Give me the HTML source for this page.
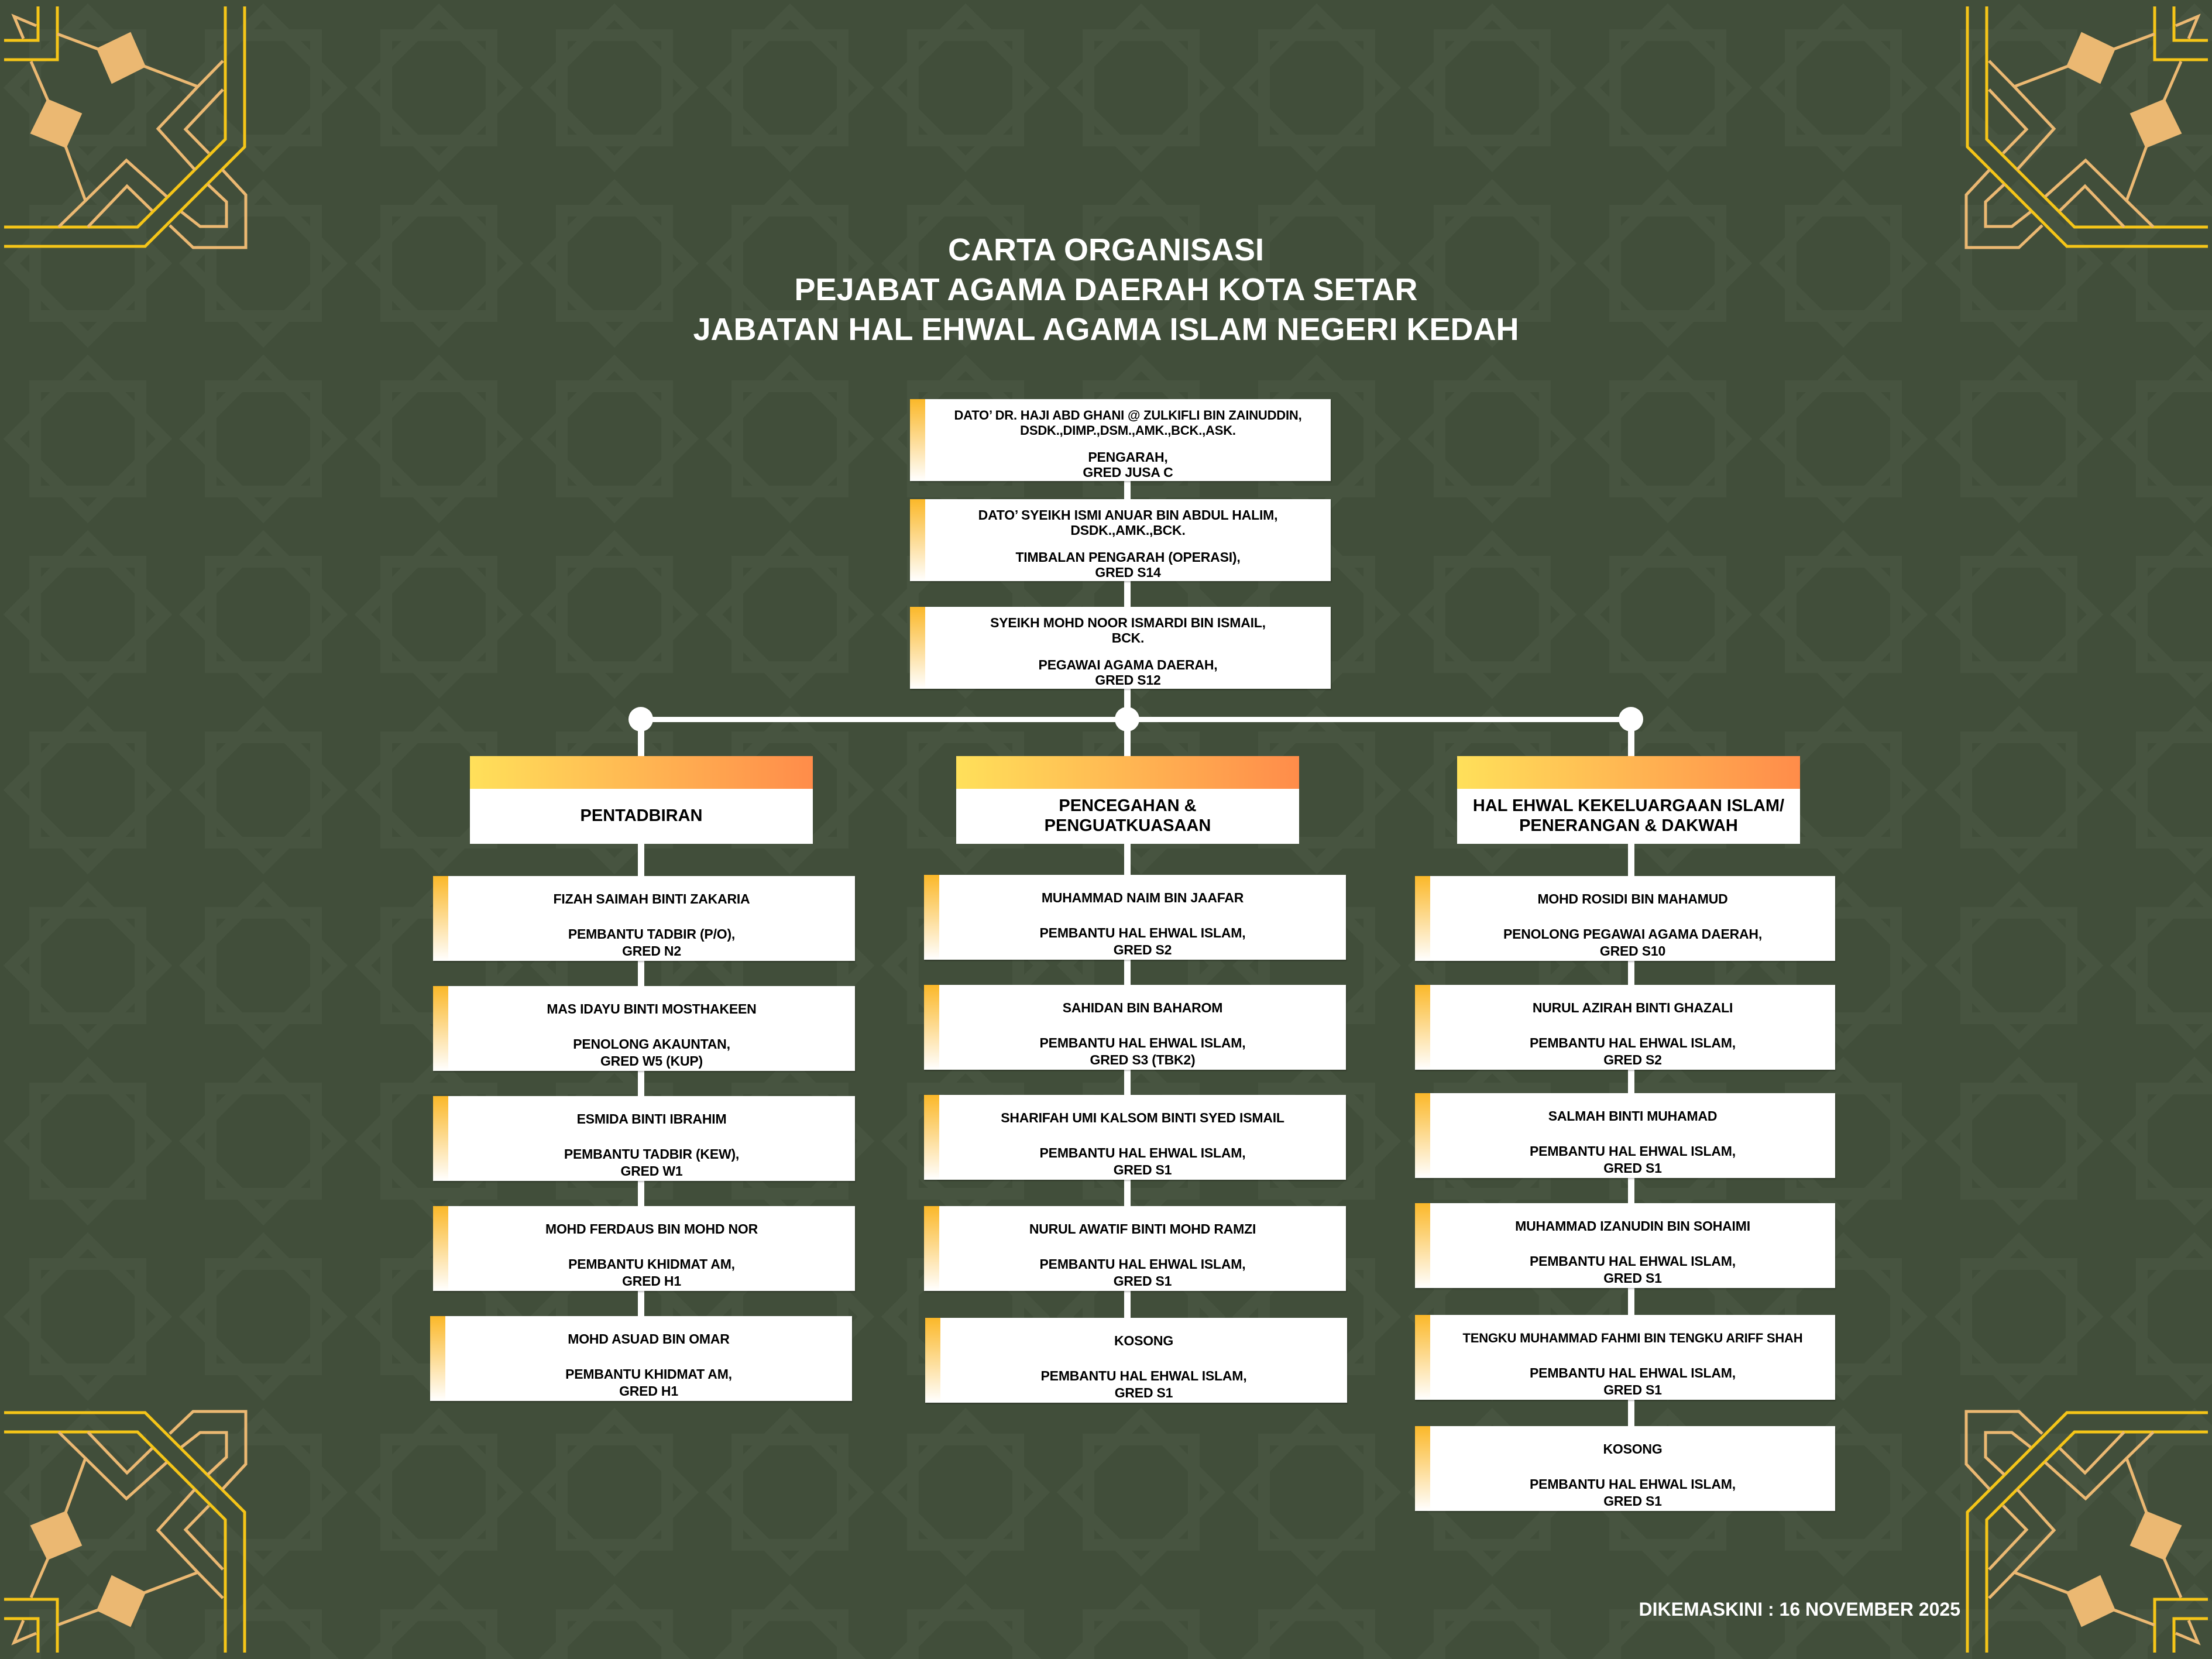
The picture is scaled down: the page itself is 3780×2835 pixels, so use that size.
<!DOCTYPE html>
<html><head><meta charset="utf-8"><style>
*{margin:0;padding:0;box-sizing:border-box}
body{width:3780px;height:2835px;background:#414e3a;position:relative;overflow:hidden;font-family:"Liberation Sans",sans-serif;font-weight:bold;color:#000}
.b{position:absolute;background:#fff;height:145px;box-shadow:1px 2px 2px rgba(0,0,0,.25)}
.bar{position:absolute;left:0;top:0;width:26px;height:100%;background:linear-gradient(#fbb829,#fff)}
.l{position:absolute;left:26px;right:0;text-align:center;font-size:23px;line-height:29px;white-space:nowrap;letter-spacing:-0.2px}
.h{position:absolute;background:#fff;width:586px;height:150px}
.hg{position:absolute;left:0;top:0;width:100%;height:56px;background:linear-gradient(90deg,#ffe05a,#ff8c4a)}
.ht{position:absolute;left:0;right:0;text-align:center;font-size:29px;line-height:34px;white-space:nowrap}
.v{position:absolute;background:#fff;width:11px}
.c{position:absolute;width:42px;height:42px;border-radius:50%;background:#fff}
.title{position:absolute;left:0;width:3780px;text-align:center;color:#fff;font-size:54px;line-height:68px;top:393px}
</style></head><body>
<svg width="3780" height="2835" style="position:absolute;left:0;top:0">
<defs>
<pattern id="p" width="300" height="300" patternUnits="userSpaceOnUse">
<g fill="none" stroke="#475440" stroke-width="20">
<path d="M150 20 L215 85 L280 150 L215 215 L150 280 L85 215 L20 150 L85 85 Z"/>
<path d="M60 60 H240 V240 H60 Z"/>
</g>
</pattern>
<g id="orn" fill="none" stroke-width="5">
<g stroke="#f5c518">
<polyline points="7,69 65,69 65,11"/>
<polyline points="7,102 98,102 98,11"/>
<polyline points="7,388 235,388 385,238 385,11"/>
<polyline points="7,421 248,421 418,251 418,11"/>
</g>
<g stroke="#ebb872">
<polyline points="62,44 24,28 40,66"/>
<line x1="98" y1="58" x2="168" y2="84"/>
<polygon points="168,84 222,58 246,113 192,140" fill="#ebb872"/>
<polyline points="246,113 338,148 381,104"/>
<line x1="53" y1="105" x2="82" y2="172"/>
<polygon points="82,172 137,195 112,250 55,227" fill="#ebb872"/>
<polyline points="112,250 146,343 100,388"/>
<polyline points="338,148 270,220 333,290"/>
<polyline points="381,153 317,221 357,262"/>
<polyline points="146,343 216,274 285,336"/>
<polyline points="150,388 217,318 260,360"/>
<polyline points="380,290 420,333 420,423 330,423 290,385"/>
<polyline points="355,315 387,345 387,387 342,387 310,362"/>
</g>
</g>
</defs>
<rect width="3780" height="2835" fill="url(#p)"/>
<use href="#orn"/>
<use href="#orn" transform="translate(3780,0) scale(-1,1)"/>
<use href="#orn" transform="translate(0,2835) scale(1,-1)"/>
<use href="#orn" transform="translate(3780,2835) scale(-1,-1)"/>
</svg>

<div class="title">CARTA ORGANISASI<br>PEJABAT AGAMA DAERAH KOTA SETAR<br>JABATAN HAL EHWAL AGAMA ISLAM NEGERI KEDAH</div>

<div class="v" style="left:1921px;top:800px;height:440px"></div>
<div style="position:absolute;left:1095px;top:1225px;width:1692px;height:9px;background:#fff"></div>
<div class="v" style="left:1090px;top:1229px;height:1160px"></div>
<div class="v" style="left:1921px;top:1229px;height:1160px"></div>
<div class="v" style="left:2782px;top:1229px;height:1300px"></div>
<div class="c" style="left:1074px;top:1208px"></div>
<div class="c" style="left:1905px;top:1208px"></div>
<div class="c" style="left:2766px;top:1208px"></div>

<div class="b" style="left:1555px;top:682px;width:719px;height:140px"><div class="bar"></div>
<div class="l" style="top:13px;font-size:22px">DATO’ DR. HAJI ABD GHANI @ ZULKIFLI BIN ZAINUDDIN,</div>
<div class="l" style="top:39px;font-size:22px">DSDK.,DIMP.,DSM.,AMK.,BCK.,ASK.</div>
<div class="l" style="top:85px">PENGARAH,</div>
<div class="l" style="top:111px">GRED JUSA C</div></div>
<div class="b" style="left:1555px;top:853px;width:719px;height:140px"><div class="bar"></div>
<div class="l" style="top:13px">DATO’ SYEIKH ISMI ANUAR BIN ABDUL HALIM,</div>
<div class="l" style="top:39px">DSDK.,AMK.,BCK.</div>
<div class="l" style="top:85px">TIMBALAN PENGARAH (OPERASI),</div>
<div class="l" style="top:111px">GRED S14</div></div>
<div class="b" style="left:1555px;top:1037px;width:719px;height:140px"><div class="bar"></div>
<div class="l" style="top:13px">SYEIKH MOHD NOOR ISMARDI BIN ISMAIL,</div>
<div class="l" style="top:39px">BCK.</div>
<div class="l" style="top:85px">PEGAWAI AGAMA DAERAH,</div>
<div class="l" style="top:111px">GRED S12</div></div>

<div class="h" style="left:803px;top:1292px"><div class="hg"></div><div class="ht" style="top:85px">PENTADBIRAN</div></div>
<div class="h" style="left:1634px;top:1292px"><div class="hg"></div><div class="ht" style="top:68px">PENCEGAHAN &amp;<br>PENGUATKUASAAN</div></div>
<div class="h" style="left:2490px;top:1292px"><div class="hg"></div><div class="ht" style="top:68px">HAL EHWAL KEKELUARGAAN ISLAM/<br>PENERANGAN &amp; DAKWAH</div></div>

<div class="b" style="left:740px;top:1497px;width:721px"><div class="bar"></div><div class="l" style="top:25px">FIZAH SAIMAH BINTI ZAKARIA</div><div class="l" style="top:85px">PEMBANTU TADBIR (P/O),</div><div class="l" style="top:114px">GRED N2</div></div>
<div class="b" style="left:740px;top:1685px;width:721px"><div class="bar"></div><div class="l" style="top:25px">MAS IDAYU BINTI MOSTHAKEEN</div><div class="l" style="top:85px">PENOLONG AKAUNTAN,</div><div class="l" style="top:114px">GRED W5 (KUP)</div></div>
<div class="b" style="left:740px;top:1873px;width:721px"><div class="bar"></div><div class="l" style="top:25px">ESMIDA BINTI IBRAHIM</div><div class="l" style="top:85px">PEMBANTU TADBIR (KEW),</div><div class="l" style="top:114px">GRED W1</div></div>
<div class="b" style="left:740px;top:2061px;width:721px"><div class="bar"></div><div class="l" style="top:25px">MOHD FERDAUS BIN MOHD NOR</div><div class="l" style="top:85px">PEMBANTU KHIDMAT AM,</div><div class="l" style="top:114px">GRED H1</div></div>
<div class="b" style="left:735px;top:2249px;width:721px"><div class="bar"></div><div class="l" style="top:25px">MOHD ASUAD BIN OMAR</div><div class="l" style="top:85px">PEMBANTU KHIDMAT AM,</div><div class="l" style="top:114px">GRED H1</div></div>

<div class="b" style="left:1579px;top:1495px;width:721px"><div class="bar"></div><div class="l" style="top:25px">MUHAMMAD NAIM BIN JAAFAR</div><div class="l" style="top:85px">PEMBANTU HAL EHWAL ISLAM,</div><div class="l" style="top:114px">GRED S2</div></div>
<div class="b" style="left:1579px;top:1683px;width:721px"><div class="bar"></div><div class="l" style="top:25px">SAHIDAN BIN BAHAROM</div><div class="l" style="top:85px">PEMBANTU HAL EHWAL ISLAM,</div><div class="l" style="top:114px">GRED S3 (TBK2)</div></div>
<div class="b" style="left:1579px;top:1871px;width:721px"><div class="bar"></div><div class="l" style="top:25px">SHARIFAH UMI KALSOM BINTI SYED ISMAIL</div><div class="l" style="top:85px">PEMBANTU HAL EHWAL ISLAM,</div><div class="l" style="top:114px">GRED S1</div></div>
<div class="b" style="left:1579px;top:2061px;width:721px"><div class="bar"></div><div class="l" style="top:25px">NURUL AWATIF BINTI MOHD RAMZI</div><div class="l" style="top:85px">PEMBANTU HAL EHWAL ISLAM,</div><div class="l" style="top:114px">GRED S1</div></div>
<div class="b" style="left:1581px;top:2252px;width:721px"><div class="bar"></div><div class="l" style="top:25px">KOSONG</div><div class="l" style="top:85px">PEMBANTU HAL EHWAL ISLAM,</div><div class="l" style="top:114px">GRED S1</div></div>

<div class="b" style="left:2418px;top:1497px;width:718px"><div class="bar"></div><div class="l" style="top:25px">MOHD ROSIDI BIN MAHAMUD</div><div class="l" style="top:85px">PENOLONG PEGAWAI AGAMA DAERAH,</div><div class="l" style="top:114px">GRED S10</div></div>
<div class="b" style="left:2418px;top:1683px;width:718px"><div class="bar"></div><div class="l" style="top:25px">NURUL AZIRAH BINTI GHAZALI</div><div class="l" style="top:85px">PEMBANTU HAL EHWAL ISLAM,</div><div class="l" style="top:114px">GRED S2</div></div>
<div class="b" style="left:2418px;top:1868px;width:718px"><div class="bar"></div><div class="l" style="top:25px">SALMAH BINTI MUHAMAD</div><div class="l" style="top:85px">PEMBANTU HAL EHWAL ISLAM,</div><div class="l" style="top:114px">GRED S1</div></div>
<div class="b" style="left:2418px;top:2056px;width:718px"><div class="bar"></div><div class="l" style="top:25px">MUHAMMAD IZANUDIN BIN SOHAIMI</div><div class="l" style="top:85px">PEMBANTU HAL EHWAL ISLAM,</div><div class="l" style="top:114px">GRED S1</div></div>
<div class="b" style="left:2418px;top:2247px;width:718px"><div class="bar"></div><div class="l" style="top:25px;font-size:22px">TENGKU MUHAMMAD FAHMI BIN TENGKU ARIFF SHAH</div><div class="l" style="top:85px">PEMBANTU HAL EHWAL ISLAM,</div><div class="l" style="top:114px">GRED S1</div></div>
<div class="b" style="left:2418px;top:2437px;width:718px"><div class="bar"></div><div class="l" style="top:25px">KOSONG</div><div class="l" style="top:85px">PEMBANTU HAL EHWAL ISLAM,</div><div class="l" style="top:114px">GRED S1</div></div>

<div style="position:absolute;left:2700px;top:2730px;width:650px;text-align:right;color:#fff;font-size:32px;line-height:40px;white-space:nowrap">DIKEMASKINI : 16 NOVEMBER 2025</div>
</body></html>
